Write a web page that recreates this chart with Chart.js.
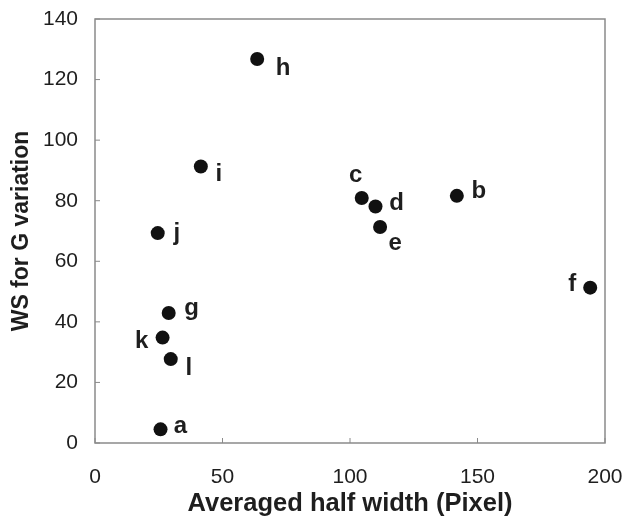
<!DOCTYPE html>
<html>
<head>
<meta charset="utf-8">
<style>
  html, body { margin: 0; padding: 0; background: #fff; }
  #wrap { width: 626px; height: 522px; }
</style>
<script src="https://cdn.jsdelivr.net/npm/chart.js@4.4.1/dist/chart.umd.min.js"></script>
</head>
<body>
<div id="wrap"><canvas id="scatter"></canvas></div>
<script>
// data
const names = ['a', 'b', 'c', 'd', 'e', 'f', 'g', 'h', 'i', 'j', 'k', 'l'];
const halfWidth = [25.7, 141.9, 104.6, 110.0, 111.8, 194.2, 28.9, 63.6, 41.5, 24.6, 26.5, 29.7];
const wsValues = [4.5, 81.6, 80.9, 78.1, 71.3, 51.3, 42.9, 126.8, 91.3, 69.3, 34.8, 27.7];
const xTicks = [0, 50, 100, 150, 200];
const yTicks = [0, 20, 40, 60, 80, 100, 120, 140];

// where each letter sits relative to its dot (px)
const labelOffsets = {
	a: [20, -3], b: [22, -4], c: [-6, -23], d: [21, -3], e: [15, 16], f: [-18, -3],
	g: [23, -5], h: [26, 9], i: [18, 8], j: [19, 0], k: [-21, 4], l: [18, 9]
};

const axisColor = '#8a8a8a';
const textColor = '#1e1e1e';
const fontFam = '"Liberation Sans", Arial, sans-serif';

// frame + inward tick marks
const framePlugin = {
	id: 'frame',
	afterDraw(chart) {
		const { ctx, chartArea: a, scales } = chart;
		ctx.save();
		ctx.strokeStyle = axisColor;
		ctx.lineWidth = 1.5;
		ctx.strokeRect(a.left, a.top, a.right - a.left, a.bottom - a.top);
		ctx.lineWidth = 1;
		ctx.beginPath();
		xTicks.forEach(v => {
			const px = scales.x.getPixelForValue(v);
			ctx.moveTo(px, a.bottom);
			ctx.lineTo(px, a.bottom - 5);
		});
		yTicks.forEach(v => {
			const py = scales.y.getPixelForValue(v);
			ctx.moveTo(a.left, py);
			ctx.lineTo(a.left + 5, py);
		});
		ctx.stroke();
		ctx.restore();
	}
};

// point letters
const letterPlugin = {
	id: 'letters',
	afterDatasetsDraw(chart) {
		const { ctx } = chart;
		const meta = chart.getDatasetMeta(0);
		ctx.save();
		ctx.font = 'bold 24px ' + fontFam;
		ctx.fillStyle = textColor;
		ctx.textAlign = 'center';
		ctx.textBaseline = 'middle';
		meta.data.forEach((pt, i) => {
			const off = labelOffsets[names[i]];
			ctx.fillText(names[i], pt.x + off[0], pt.y + off[1]);
		});
		ctx.restore();
	}
};

const ctx = document.getElementById('scatter').getContext('2d');
new Chart(ctx, {
	type: 'scatter',
	data: {
		datasets: [{
			data: halfWidth.map((x, i) => ({ x: x, y: wsValues[i] })),
			pointRadius: 7,
			pointBackgroundColor: '#111',
			pointBorderColor: '#111',
			pointBorderWidth: 0
		}]
	},
	options: {
		responsive: true,
		maintainAspectRatio: false,
		animation: false,
		layout: {
			padding: { left: 0, right: 21, top: 19, bottom: 0 }
		},
		plugins: {
			legend: { display: false },
			tooltip: { enabled: false }
		},
		scales: {
			x: {
				type: 'linear',
				min: 0,
				max: 200,
				afterBuildTicks: axis => { axis.ticks = xTicks.map(v => ({ value: v })); },
				afterFit: axis => {
					axis.height = 79;
					axis.paddingLeft = 0;
					axis.paddingRight = 0;
				},
				grid: { display: false, drawTicks: false },
				border: { display: false },
				ticks: {
					padding: 22,
					color: textColor,
					font: { family: fontFam, size: 21 }
				},
				title: {
					display: true,
					text: 'Averaged half width (Pixel)',
					color: textColor,
					padding: { top: 0, bottom: 3 },
					font: { family: fontFam, size: 25.5, weight: 'bold' }
				}
			},
			y: {
				type: 'linear',
				min: 0,
				max: 140,
				afterBuildTicks: axis => { axis.ticks = yTicks.map(v => ({ value: v })); },
				afterFit: axis => {
					axis.width = 95;
					axis.paddingTop = 0;
					axis.paddingBottom = 0;
				},
				grid: { display: false, drawTicks: false },
				border: { display: false },
				ticks: {
					padding: 17,
					color: textColor,
					font: { family: fontFam, size: 21 }
				},
				title: {
					display: true,
					text: 'WS for G variation',
					color: textColor,
					padding: { top: 8, bottom: 0 },
					font: { family: fontFam, size: 23, weight: 'bold' }
				}
			}
		}
	},
	plugins: [framePlugin, letterPlugin]
});
</script>
</body>
</html>
